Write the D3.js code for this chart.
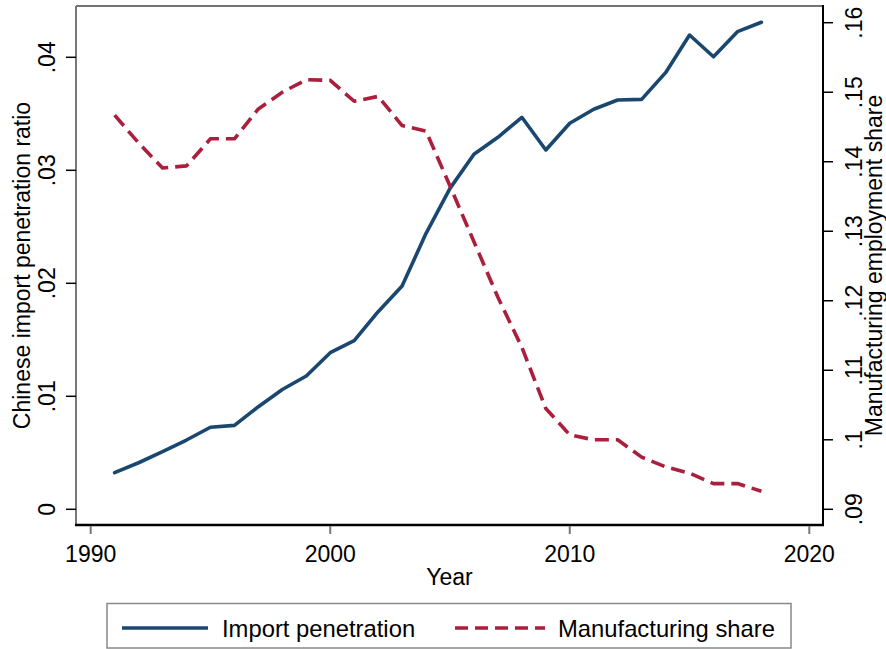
<!DOCTYPE html>
<html>
<head>
<meta charset="utf-8">
<script src="https://cdn.jsdelivr.net/npm/d3@7/dist/d3.min.js"></script>
<style>
  html, body { margin: 0; padding: 0; background: #fff; }
  svg { display: block; font-family: "Liberation Sans", Arial, sans-serif; }
</style>
</head>
<body>
<svg id="chart" width="886" height="649"></svg>
<script>
// Years covered by both series
const years = [1991, 1992, 1993, 1994, 1995, 1996, 1997, 1998, 1999, 2000,
               2001, 2002, 2003, 2004, 2005, 2006, 2007, 2008, 2009, 2010,
               2011, 2012, 2013, 2014, 2015, 2016, 2017, 2018];

// Chinese import penetration ratio (left axis)
const importPenetration = [0.00324, 0.00412, 0.0051, 0.00613, 0.00726, 0.00743, 0.00908, 0.0106, 0.0118, 0.01386,
                           0.01492, 0.01749, 0.01976, 0.02442, 0.0284, 0.03142, 0.03292, 0.03469, 0.0318, 0.03416,
                           0.0354, 0.03622, 0.03628, 0.03864, 0.04197, 0.04005, 0.04227, 0.0431];

// Manufacturing employment share (right axis)
const manufacturingShare = [0.1467, 0.1427, 0.1391, 0.1394, 0.1433, 0.1433, 0.1476, 0.1500, 0.1518, 0.1517,
                            0.1487, 0.1494, 0.1452, 0.1444, 0.1365, 0.1285, 0.1205, 0.1133, 0.1045, 0.1007,
                            0.1000, 0.1000, 0.0975, 0.0961, 0.0952, 0.0937, 0.0937, 0.0926];

// Tick values and labels
const xTicks = [1990, 2000, 2010, 2020];
const leftTicks = [0, 0.01, 0.02, 0.03, 0.04];
const leftTickLabels = ["0", ".01", ".02", ".03", ".04"];
const rightTicks = [0.09, 0.10, 0.11, 0.12, 0.13, 0.14, 0.15, 0.16];
const rightTickLabels = [".09", ".1", ".11", ".12", ".13", ".14", ".15", ".16"];

const seriesNames = ["Import penetration", "Manufacturing share"];

const blue = "#1a476f";
const red = "#aa1f3b";
const fontSize = 23;
const dash = "14,7";

const svg = d3.select("#chart");

// Plot region
const plot = { left: 76, right: 823, top: 6, bottom: 525 };

const x = d3.scaleLinear().domain([1990, 2020]).range([90.7, 809.3]);
const yL = d3.scaleLinear().domain([0, 0.04]).range([509.3, 57.3]);
const yR = d3.scaleLinear().domain([0.09, 0.16]).range([509.3, 22.7]);

// Frame: top and left lines grey, bottom and right axes black
svg.append("line").attr("x1", plot.left).attr("x2", plot.right).attr("y1", plot.top).attr("y2", plot.top)
  .attr("stroke", "#444").attr("stroke-width", 1.5);
svg.append("line").attr("x1", plot.left).attr("x2", plot.left).attr("y1", plot.top).attr("y2", plot.bottom)
  .attr("stroke", "#777").attr("stroke-width", 2);

// Series lines
const lineL = d3.line().x((d, i) => x(years[i])).y(d => yL(d));
const lineR = d3.line().x((d, i) => x(years[i])).y(d => yR(d));

svg.append("path").datum(importPenetration)
  .attr("d", lineL).attr("fill", "none").attr("stroke", blue)
  .attr("stroke-width", 3.6).attr("stroke-linejoin", "round").attr("stroke-linecap", "round");

svg.append("path").datum(manufacturingShare)
  .attr("d", lineR).attr("fill", "none").attr("stroke", red)
  .attr("stroke-width", 3.6).attr("stroke-dasharray", dash).attr("stroke-linejoin", "round");

// Bottom axis
svg.append("line").attr("x1", plot.left - 1).attr("x2", plot.right + 1).attr("y1", plot.bottom).attr("y2", plot.bottom)
  .attr("stroke", "#000").attr("stroke-width", 2.5);
const xAxis = svg.append("g");
xAxis.selectAll("line").data(xTicks).join("line")
  .attr("x1", d => x(d)).attr("x2", d => x(d))
  .attr("y1", plot.bottom + 1).attr("y2", plot.bottom + 9)
  .attr("stroke", "#777").attr("stroke-width", 2);
xAxis.selectAll("text").data(xTicks).join("text")
  .attr("x", d => x(d)).attr("y", 562)
  .attr("text-anchor", "middle").attr("font-size", fontSize).attr("fill", "#000")
  .text(d => d);

svg.append("text").attr("x", (plot.left + plot.right) / 2).attr("y", 585)
  .attr("text-anchor", "middle").attr("font-size", fontSize).text("Year");

// Left axis ticks and labels
const leftAxis = svg.append("g");
leftAxis.selectAll("line").data(leftTicks).join("line")
  .attr("x1", plot.left - 10).attr("x2", plot.left)
  .attr("y1", d => yL(d)).attr("y2", d => yL(d))
  .attr("stroke", "#000").attr("stroke-width", 1.5);
leftAxis.selectAll("text").data(leftTicks).join("text")
  .attr("transform", d => `translate(55,${yL(d)}) rotate(-90)`)
  .attr("text-anchor", "middle").attr("font-size", fontSize)
  .text((d, i) => leftTickLabels[i]);

svg.append("text")
  .attr("transform", `translate(30,${(plot.top + plot.bottom) / 2}) rotate(-90)`)
  .attr("text-anchor", "middle").attr("font-size", fontSize)
  .text("Chinese import penetration ratio");

// Right axis
svg.append("line").attr("x1", plot.right).attr("x2", plot.right).attr("y1", plot.top - 1).attr("y2", plot.bottom + 1)
  .attr("stroke", "#000").attr("stroke-width", 2);
const rightAxis = svg.append("g");
rightAxis.selectAll("line").data(rightTicks).join("line")
  .attr("x1", plot.right).attr("x2", plot.right + 10)
  .attr("y1", d => yR(d)).attr("y2", d => yR(d))
  .attr("stroke", "#000").attr("stroke-width", 1.5);
rightAxis.selectAll("text").data(rightTicks).join("text")
  .attr("transform", d => `translate(862,${yR(d)}) rotate(-90)`)
  .attr("text-anchor", "middle").attr("font-size", fontSize)
  .text((d, i) => rightTickLabels[i]);

svg.append("text")
  .attr("transform", `translate(882,${(plot.top + plot.bottom) / 2}) rotate(-90)`)
  .attr("text-anchor", "middle").attr("font-size", fontSize)
  .text("Manufacturing employment share");

// Legend
const legend = svg.append("g");
legend.append("rect").attr("x", 107).attr("y", 603.5).attr("width", 684).attr("height", 44.5)
  .attr("fill", "#fff").attr("stroke", "#888").attr("stroke-width", 1.5);
const legendItems = [
  { name: seriesNames[0], color: blue, dash: null, x0: 122, x1: 208, tx: 222 },
  { name: seriesNames[1], color: red, dash: "13,7", x0: 455, x1: 545, tx: 558 }
];
legendItems.forEach(it => {
  legend.append("line").attr("x1", it.x0).attr("x2", it.x1).attr("y1", 628).attr("y2", 628)
    .attr("stroke", it.color).attr("stroke-width", 3.6)
    .attr("stroke-dasharray", it.dash);
  legend.append("text").attr("x", it.tx).attr("y", 636.5).attr("font-size", 23.8).text(it.name);
});
</script>
</body>
</html>
